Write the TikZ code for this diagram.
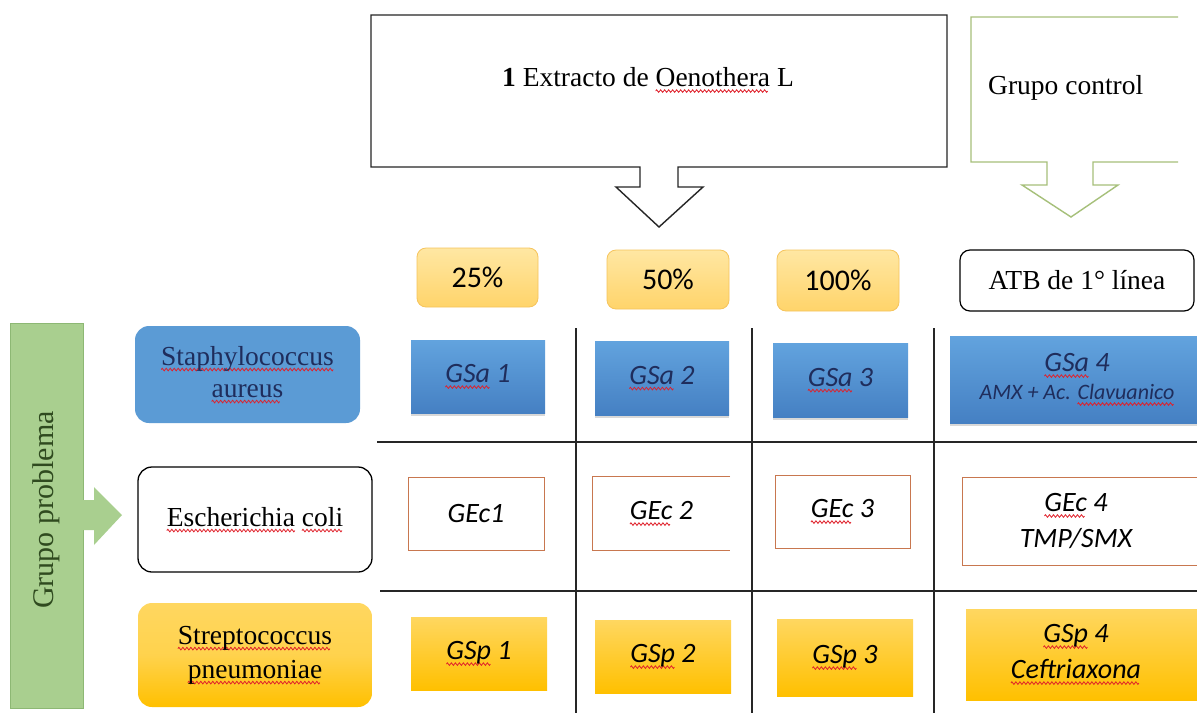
\documentclass[tikz,border=0pt]{standalone}
\usepackage{fontspec}
\setmainfont{Liberation Serif}
\newfontfamily\calib{Carlito}
\usetikzlibrary{shadows}
\newsavebox\wavebox
\newcommand\sq[1]{\setbox0\hbox{#1}\leavevmode\rlap{\lower6pt\hbox to\wd0{\leaders\copy\wavebox\hfil}}\box0\relax}
\definecolor{navy}{HTML}{1F2D5C}
\definecolor{gfill}{HTML}{A9CF8F}
\definecolor{gdraw}{HTML}{8DB874}
\definecolor{gtext}{HTML}{2F4A1F}
\definecolor{olive}{HTML}{A6C07A}
\definecolor{ecbrd}{HTML}{C8774F}
\definecolor{bluetop}{HTML}{62A3DE}
\definecolor{bluebot}{HTML}{4580C3}
\definecolor{staphc}{HTML}{5B9BD5}
\definecolor{goldtop}{HTML}{FFD760}
\definecolor{goldbot}{HTML}{FFC000}
\definecolor{pcttop}{HTML}{FFE7A3}
\definecolor{pctbot}{HTML}{FFD46A}
\definecolor{pctdraw}{HTML}{F6C45C}
\definecolor{sqred}{HTML}{E0202A}
\begin{document}
\sbox\wavebox{\begin{pgfpicture}\pgfsetlinewidth{0.8pt}\pgfsetstrokecolor{sqred}%
\pgfpathmoveto{\pgfpoint{0pt}{0pt}}\pgfpathlineto{\pgfpoint{1pt}{1.3pt}}%
\pgfpathlineto{\pgfpoint{3pt}{-1.3pt}}\pgfpathlineto{\pgfpoint{4pt}{0pt}}\pgfusepath{stroke}%
\pgfresetboundingbox
\pgfpathrectanglecorners{\pgfpoint{0pt}{-1.5pt}}{\pgfpoint{4pt}{1.5pt}}\pgfusepath{use as bounding box}%
\end{pgfpicture}}%
\begin{tikzpicture}[x=1pt,y=-1pt,
  serifbig/.style={font=\fontsize{27.5}{32}\selectfont, align=center, inner sep=0pt},
  cellfont/.style={font=\calib\itshape\fontsize{28}{31}\selectfont, align=center, inner sep=0pt},
  bluecell/.style={cellfont, rectangle, top color=bluetop, bottom color=bluebot, text=navy,
     drop shadow={shadow xshift=0pt, shadow yshift=-3pt, opacity=0.3}},
  goldcell/.style={cellfont, rectangle, top color=goldtop, bottom color=goldbot, text=black},
  whitecell/.style={cellfont, rectangle, fill=white, draw=ecbrd, line width=0.9pt, text=black},
  pct/.style={rectangle, rounded corners=9pt, top color=pcttop, bottom color=pctbot, draw=pctdraw,
     line width=0.8pt, font=\calib\fontsize{30}{33}\selectfont, inner sep=0pt},
  species/.style={serifbig, rectangle, rounded corners=14pt},
  divider/.style={line width=1.3pt, black!85},
  calloutblk/.style={line width=1.4pt, black!85},
  calloutgrn/.style={line width=1.4pt, olive}
]
\useasboundingbox (0,0) rectangle (1197,713);
\clip (0,0) rectangle (1197,713);
\fill[white] (0,0) rectangle (1197,713);

% top callout
\draw[calloutblk] (371,15) -- (947,15) -- (947,167) -- (678,167) -- (678,187) -- (703,187)
  -- (659,227) -- (616,187) -- (640,187) -- (640,167) -- (371,167) -- cycle;
\node[serifbig] (ext) at (648,80) {\textbf{1} Extracto de \sq{Oenothera} L};

% control callout
\draw[calloutgrn] (1178,17) -- (971,17) -- (971,162) -- (1047,162) -- (1047,185) -- (1022,185)
  -- (1071,217) -- (1118,185) -- (1093,185) -- (1093,162) -- (1178,162);
\node[serifbig, anchor=west] (ctrl) at (988,88) {Grupo control};

% column headers
\node[pct, minimum width=121, minimum height=59] (p25) at (477.5,277.5) {25\%};
\node[pct, minimum width=122, minimum height=59] (p50) at (668,279.5) {50\%};
\node[pct, minimum width=122, minimum height=61] (p100) at (838,280.5) {100\%};
\node[serifbig, rectangle, rounded corners=10pt, draw=black, line width=1.2pt, fill=white,
  minimum width=234, minimum height=61] (atb) at (1077,280.5) {ATB de 1° línea};

% dividers
\draw[divider] (576,328) -- (576,713);
\draw[divider] (752,328) -- (752,713);
\draw[divider] (934,328) -- (934,713);
\draw[divider] (377,442) -- (1197,442);
\draw[divider] (380,591) -- (1197,591);

% left group
\node[rectangle, fill=gfill, draw=gdraw, line width=0.8pt, minimum width=73, minimum height=385,
  inner sep=0pt] (gp) at (46.5,515.5) {};
\node[serifbig, rotate=90, text=gtext, font=\fontsize{30}{34}\selectfont] (gptext) at (46.5,510) {Grupo problema};
\fill[gfill] (83,500) -- (94,500) -- (94,487) -- (122,515) -- (94,545) -- (94,530) -- (83,530) -- cycle;

\node[species, fill=staphc, text=navy, minimum width=225, minimum height=97] (staph) at (247.5,374.5)
  {\sq{Staphylococcus}\\\sq{aureus}};
\node[species, fill=white, draw=black, line width=1.3pt, minimum width=234, minimum height=105] (ecoli)
  at (255,519.5) {\sq{Escherichia} \sq{coli}};
\node[species, top color=goldtop, bottom color=goldbot, middle color=goldtop!80!goldbot,
  minimum width=234, minimum height=104, font=\fontsize{27.5}{34}\selectfont] (strep) at (255,655)
  {\sq{Streptococcus}\\\sq{pneumoniae}};

% row 1
\node[bluecell, minimum width=134, minimum height=73] (gsa1) at (478,376.5) {\sq{GSa} 1};
\node[bluecell, minimum width=134, minimum height=74] (gsa2) at (662,378) {\sq{GSa} 2};
\node[bluecell, minimum width=135, minimum height=74] (gsa3) at (840.5,380) {\sq{GSa} 3};
\node[bluecell, minimum width=254, minimum height=87] (gsa4) at (1077,379.5)
  {\sq{GSa} 4\\[-3pt]{\fontsize{22}{26}\selectfont AMX + Ac. \sq{Clavuanico}}};

% row 2
\node[whitecell, minimum width=136, minimum height=73] (gec1) at (476,513.5) {GEc1};
\node[cellfont, minimum width=137, minimum height=73] (gec2) at (661.5,513.5) {\sq{GEc} 2};
\draw[ecbrd, line width=0.9pt] (gec2.north east) -- (gec2.north west) -- (gec2.south west) -- (gec2.south east);
\node[whitecell, minimum width=135, minimum height=73] (gec3) at (842.5,511.5) {\sq{GEc} 3};
\node[whitecell, minimum width=242, minimum height=88, font=\calib\itshape\fontsize{28}{36}\selectfont]
  (gec4) at (1083,521) {\hspace*{-14pt}\sq{GEc} 4\\\hspace*{-14pt}TMP/SMX};

% row 3
\node[goldcell, minimum width=136, minimum height=73] (gsp1) at (479,653.5) {\sq{GSp} 1};
\node[goldcell, minimum width=136, minimum height=73] (gsp2) at (663,656.5) {\sq{GSp} 2};
\node[goldcell, minimum width=136, minimum height=77] (gsp3) at (845,657.5) {\sq{GSp} 3};
\node[goldcell, minimum width=238, minimum height=91, font=\calib\itshape\fontsize{28}{36}\selectfont]
  (gsp4) at (1085,654.5) {\hspace*{-18pt}\sq{GSp} 4\\\hspace*{-18pt}\sq{Ceftriaxona}};
\end{tikzpicture}
\end{document}
